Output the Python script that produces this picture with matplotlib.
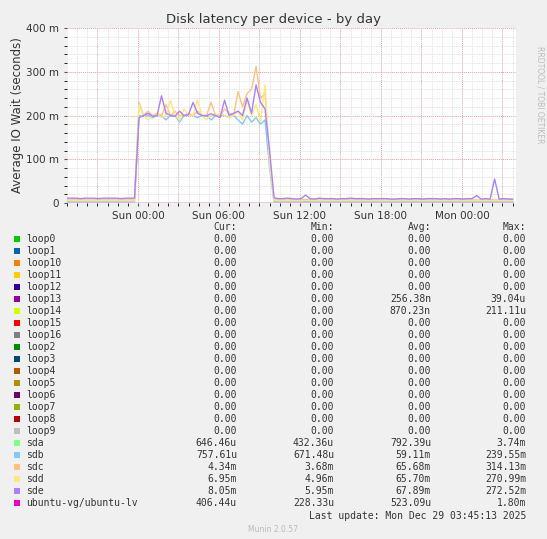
import numpy as np
import matplotlib
matplotlib.use("Agg")
import matplotlib.pyplot as plt
from matplotlib.ticker import MultipleLocator, FuncFormatter

# time in hours relative to Sun 00:00, 20-minute samples
t0, step, n = -5.25, 1/3, 100
times = t0 + step * np.arange(n)

sde = [11,11,11,10,11,11,11,10,11,11,11,11,10,11,11,11,
       195,200,205,198,200,245,205,200,198,210,200,202,230,205,200,199,204,200,195,235,200,205,210,200,240,205,270,230,215,120,
       12,10,10,11,10,9,10,18,10,9, 11,10,10,10,9,10,10,11,10,10, 10,9,10,10,10,10,9,9,10,10,
       9,10,10,9,10,10,10,9,10,9, 10,10,9,10,10,17,9,10,9,55, 9,10,9,9]
sdc = [7,7,7,7,7,7,7,7,7,7,7,7,7,7,7,7,
       230,200,210,200,205,200,225,200,210,200,200,205,200,210,200,200,230,200,200,215,205,200,255,220,250,260,312,240,250,100,
       8,7,7,7,7,7,7,8,7,7, 7,7,7,7,7,7,7,7,7,7, 7,7,7,7,7,7,7,7,7,7,
       7,7,7,7,7,7,7,7,7,7, 7,7,7,7,7,7,7,7,7,7, 7,7,7,7]
sdd = [5,5,5,5,5,5,5,5,5,5,5,5,5,5,5,5,
       225,200,190,200,205,195,200,235,200,190,215,200,200,235,200,190,200,200,205,200,195,200,210,190,235,200,225,185,270,90,
       6,5,5,5,5,5,5,6,5,5, 5,5,5,5,5,5,5,5,5,5, 5,5,5,5,5,5,5,5,5,5,
       5,5,5,5,5,5,5,5,5,5, 5,5,5,5,5,5,5,5,5,5, 5,5,5,5]
sdb = [3,3,3,3,3,3,3,3,3,3,3,3,3,3,3,3,
       200,198,200,195,200,200,190,200,200,185,200,200,200,195,200,200,190,200,200,200,195,200,190,180,200,185,195,180,190,80,
       3,3,3,3,3,3,3,3,3,3, 3,3,3,3,3,3,3,3,3,3, 3,3,3,3,3,3,3,3,3,3,
       3,3,3,3,3,3,3,3,3,3, 3,3,3,3,3,3,3,3,3,3, 3,3,3,3]
sda = [1]*n

names = ["loop0","loop1","loop10","loop11","loop12","loop13","loop14","loop15","loop16","loop2",
         "loop3","loop4","loop5","loop6","loop7","loop8","loop9","sda","sdb","sdc","sdd","sde","ubuntu-vg/ubuntu-lv"]
colors = ["#00CC00","#0066B3","#FF8000","#FFCC00","#330099","#990099","#CCFF00","#FF0000","#808080","#008F00",
          "#00487D","#B35A00","#B38F00","#6B006B","#8FB300","#B30000","#BEBEBE","#80FF80","#80C9FF","#FFC080",
          "#FFE680","#AA80FF","#EE00CC"]
cur = ["0.00"]*17 + ["646.46u","757.61u","4.34m","6.95m","8.05m","406.44u"]
mins = ["0.00"]*17 + ["432.36u","671.48u","3.68m","4.96m","5.95m","228.33u"]
avgs = ["0.00"]*5 + ["256.38n","870.23n"] + ["0.00"]*10 + ["792.39u","59.11m","65.68m","65.70m","67.89m","523.09u"]
maxs = ["0.00"]*5 + ["39.04u","211.11u"] + ["0.00"]*10 + ["3.74m","239.55m","314.13m","270.99m","272.52m","1.80m"]

W, H = 547, 539
fig = plt.figure(figsize=(W/100, H/100), dpi=100, facecolor="#F0F0F0")
ax = fig.add_axes([67/W, 1-203/H, (516-67)/W, (203-28)/H])
ax.set_facecolor("white")

ax.plot(times, np.array(sda), color=colors[17], lw=1)
ax.plot(times, np.array(sdb), color=colors[18], lw=1)
ax.plot(times, np.array(sdc), color=colors[19], lw=1)
ax.plot(times, np.array(sdd), color=colors[20], lw=1)
ax.plot(times, np.array(sde), color=colors[21], lw=1)
ax.plot(times, np.zeros(n), color=colors[22], lw=1)

ax.set_xlim(-5.25, 28.0)
ax.set_ylim(0, 400)
ax.xaxis.set_major_locator(MultipleLocator(6))
ax.xaxis.set_minor_locator(MultipleLocator(0.75))
ax.yaxis.set_major_locator(MultipleLocator(100))
ax.yaxis.set_minor_locator(MultipleLocator(20))
labs = {0:"Sun 00:00",6:"Sun 06:00",12:"Sun 12:00",18:"Sun 18:00",24:"Mon 00:00"}
ax.xaxis.set_major_formatter(FuncFormatter(lambda v,p: labs.get(int(round(v)), "")))
ax.yaxis.set_major_formatter(FuncFormatter(lambda v,p: "0" if v == 0 else f"{int(v)} m"))
ax.grid(which="minor", color="#DDDDDD", ls=(0,(1,1)), lw=0.6)
for x in np.arange(-3, 28, 3):
    ax.axvline(x, color="#E8A0A0", ls=(0,(1,1)), lw=0.7, zorder=0.5)
for y in [100, 200, 300, 400]:
    ax.axhline(y, color="#E8A0A0", ls=(0,(1,1)), lw=0.7, zorder=0.5)
ax.set_axisbelow(True)
for s in ax.spines.values():
    s.set_visible(False)
ax.tick_params(labelsize=7.5, colors="#555555", length=2)
ax.tick_params(axis="both", labelcolor="#333333")
ax.set_ylabel("Average IO Wait (seconds)", fontsize=8.5, color="#333333", labelpad=2)

fig.text(0.5, 1-19/H, "Disk latency per device - by day", ha="center", va="center", fontsize=9.5, color="#333333")
fig.text(540/W, 1-95/H, "RRDTOOL / TOBI OETIKER", rotation=270, ha="center", va="center", fontsize=5.5, color="#BBBBBB")

mono = "DejaVu Sans Mono"
fs = 7
hy = 227
for x, s in [(237,"Cur:"),(334,"Min:"),(431,"Avg:"),(526,"Max:")]:
    fig.text(x/W, 1-hy/H, s, ha="right", va="center", fontsize=fs, family=mono, color="#333333")
for i, nm in enumerate(names):
    y = 239 + i*12.0
    fig.patches.append(plt.Rectangle((14/W, 1-(y+3)/H), 6/W, 6/H, transform=fig.transFigure,
                                     facecolor=colors[i], edgecolor="none"))
    fig.text(26/W, 1-y/H, nm, ha="left", va="center", fontsize=fs, family=mono, color="#333333")
    for x, s in [(237,cur[i]),(334,mins[i]),(431,avgs[i]),(526,maxs[i])]:
        fig.text(x/W, 1-y/H, s, ha="right", va="center", fontsize=fs, family=mono, color="#333333")
fig.text(526/W, 1-516/H, "Last update: Mon Dec 29 03:45:13 2025", ha="right", va="center", fontsize=fs, family=mono, color="#333333")
fig.text(273/W, 1-529/H, "Munin 2.0.57", ha="center", va="center", fontsize=5.5, color="#BBBBBB")

fig.savefig("out.png", dpi=100, facecolor=fig.get_facecolor())
